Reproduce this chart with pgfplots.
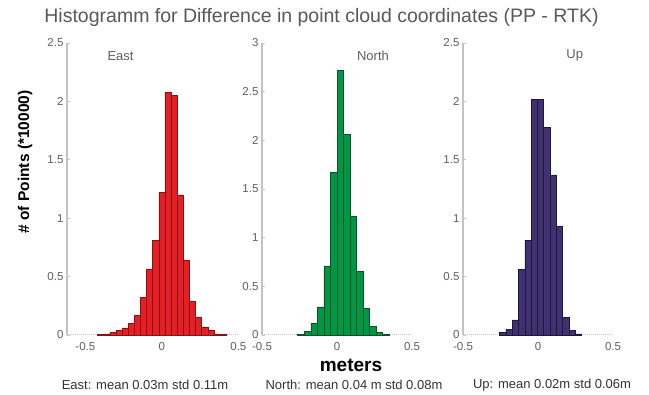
\documentclass[border=0pt]{standalone}
\usepackage{fontspec}
\setmainfont{Liberation Sans}
\usepackage{pgfplots}
\pgfplotsset{compat=1.18}
\definecolor{eastfill}{RGB}{232,30,38}
\definecolor{eastedge}{RGB}{125,22,22}
\definecolor{northfill}{RGB}{0,150,68}
\definecolor{northedge}{RGB}{12,80,42}
\definecolor{upfill}{RGB}{64,50,112}
\definecolor{upedge}{RGB}{30,22,62}
\definecolor{axgray}{RGB}{195,195,195}
\definecolor{txtgray}{RGB}{95,95,95}

\pgfplotstableread{
x y
-0.40 0.005
-0.36 0.01
-0.32 0.02
-0.28 0.04
-0.24 0.06
-0.20 0.10
-0.16 0.17
-0.12 0.32
-0.08 0.56
-0.04 0.81
0.00 1.22
0.04 2.08
0.08 2.05
0.12 1.20
0.16 0.64
0.20 0.29
0.24 0.15
0.28 0.07
0.32 0.04
0.36 0.01
0.40 0.005
}\eastdata
\pgfplotstableread{
x y
-0.240 0.01
-0.196 0.035
-0.152 0.12
-0.109 0.29
-0.065 0.71
-0.022 1.67
0.022 2.72
0.065 2.06
0.109 1.22
0.152 0.65
0.196 0.27
0.240 0.09
0.283 0.03
0.327 0.008
}\northdata
\pgfplotstableread{
x y
-0.235 0.02
-0.193 0.05
-0.151 0.13
-0.109 0.56
-0.067 0.81
-0.025 2.02
0.017 2.02
0.059 1.78
0.101 1.37
0.143 0.93
0.185 0.15
0.227 0.04
0.269 0.01
}\updata

\pgfplotsset{hist/.style={
  scale only axis, height=292pt,
  ymin=0,
  axis y line*=left, axis x line*=bottom,
  x axis line style={draw=none},
  y axis line style={axgray, line width=1.3pt},
  xtick={-0.5,0,0.5}, xticklabels={-0.5,0,0.5},
  xtick style={draw=none},
  ytick style={axgray, line width=0.8pt},
  major tick length=3pt,
  yticklabel style={font=\fontsize{11.5}{13}\selectfont, text=txtgray},
  xticklabel style={font=\fontsize{11.5}{13}\selectfont, text=txtgray, yshift=-4pt},
  /pgf/number format/assume math mode=true,
  clip=false,
}}

\begin{document}
\begin{tikzpicture}
\useasboundingbox (0,0) rectangle (649pt,395pt);

\begin{axis}[hist, at={(67pt,60pt)}, anchor=south west,
  width=186.7pt, xmin=-0.62, xmax=0.6, ymax=2.5,
  ytick={0,0.5,1,1.5,2,2.5}]
\addplot[densely dotted, axgray, line width=1pt] coordinates {(-0.62,0) (0.5,0)};
\addplot[ybar, bar width=0.04, fill=eastfill, draw=eastedge, line width=0.5pt] table[x=x,y=y] {\eastdata};
\node[font=\fontsize{13}{14}\selectfont, text=txtgray] at (axis cs:-0.27,2.39) {East};
\end{axis}

\begin{axis}[hist, at={(262pt,60pt)}, anchor=south west,
  width=150pt, xmin=-0.5, xmax=0.5, ymax=3,
  ytick={0,0.5,1,1.5,2,2.5,3}]
\addplot[densely dotted, axgray, line width=1pt] coordinates {(-0.5,0) (0.5,0)};
\addplot[ybar, bar width=0.0436, fill=northfill, draw=northedge, line width=0.5pt] table[x=x,y=y] {\northdata};
\node[font=\fontsize{13}{14}\selectfont, text=txtgray] at (axis cs:0.24,2.87) {North};
\end{axis}

\begin{axis}[hist, at={(463pt,60pt)}, anchor=south west,
  width=150pt, xmin=-0.5, xmax=0.5, ymax=2.5,
  ytick={0,0.5,1,1.5,2,2.5}]
\addplot[densely dotted, axgray, line width=1pt] coordinates {(-0.5,0) (0.5,0)};
\addplot[ybar, bar width=0.042, fill=upfill, draw=upedge, line width=0.5pt] table[x=x,y=y] {\updata};
\node[font=\fontsize{13}{14}\selectfont, text=txtgray] at (axis cs:0.245,2.39) {Up};
\end{axis}

\node[font=\fontsize{19.5}{21}\selectfont, text=black!65] at (321.5pt,377.5pt) {Histogramm for Difference in point cloud coordinates (PP - RTK)};
\node[font=\bfseries\fontsize{15.5}{17}\selectfont, rotate=90] at (25pt,233pt) {\# of Points (*10000)};
\node[font=\bfseries\fontsize{19}{20}\selectfont] at (351pt,29.5pt) {meters};
\node[font=\fontsize{13}{14}\selectfont, text=black!80] at (145pt,10pt) {East: mean 0.03m std 0.11m};
\node[font=\fontsize{13}{14}\selectfont, text=black!80] at (354pt,10pt) {North: mean 0.04 m std 0.08m};
\node[font=\fontsize{13}{14}\selectfont, text=black!80] at (552pt,10pt) {Up: mean 0.02m std 0.06m};
\end{tikzpicture}
\end{document}
